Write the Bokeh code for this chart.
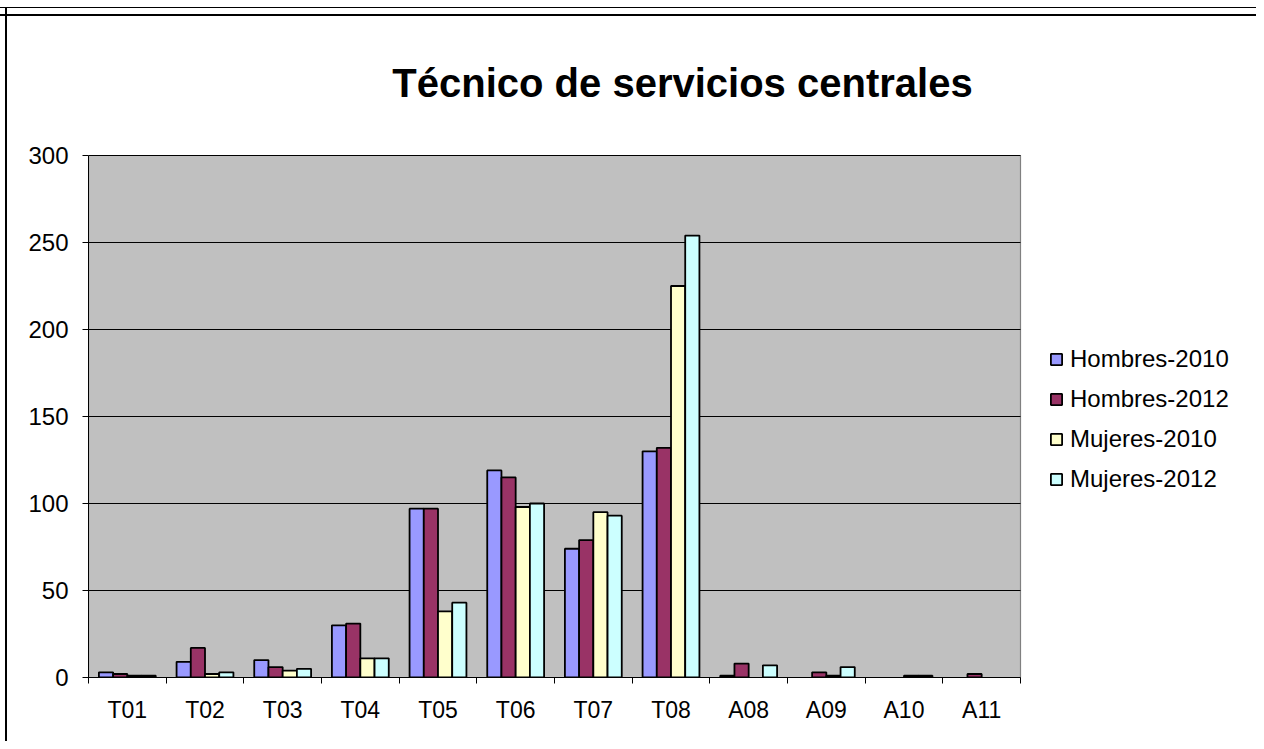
from bokeh.plotting import figure
from bokeh.models import (Range1d, FixedTicker, ColumnDataSource, Legend, LegendItem, Label)
from bokeh.transform import dodge
from bokeh.embed import file_html
from bokeh.resources import INLINE

# ---- data ----
categories = ["T01", "T02", "T03", "T04", "T05", "T06", "T07", "T08", "A08", "A09", "A10", "A11"]
hombres_2010 = [3, 9, 10, 30, 97, 119, 74, 130, 1, 0, 0, 0]
hombres_2012 = [2, 17, 6, 31, 97, 115, 79, 132, 8, 3, 0, 2]
mujeres_2010 = [1, 2, 4, 11, 38, 98, 95, 225, 0, 1, 1, 0]
mujeres_2012 = [1, 3, 5, 11, 43, 100, 93, 254, 7, 6, 1, 0]
series_names = ["Hombres-2010", "Hombres-2012", "Mujeres-2010", "Mujeres-2012"]
y_ticks = [0, 50, 100, 150, 200, 250, 300]
y_max = 300
title_text = "Técnico de servicios centrales"

series_values = [hombres_2010, hombres_2012, mujeres_2010, mujeres_2012]
colors = ["#9999FF", "#993366", "#FFFFCC", "#CCFFFF"]

FONT = "Liberation Sans"
W, H = 1256, 741
# pixel layout of the plot area (gray box)
PA_LEFT, PA_RIGHT, PA_TOP, PA_BOTTOM = 88, 1020, 155, 677
n = len(categories)

# The frame spans from the axes to the top/right canvas edges so that the
# title and legend (drawn inside it) are not clipped; the gray plot area is
# the region [0, n] x [0, y_max] of the data space.
x_end = n * (W - PA_LEFT) / (PA_RIGHT - PA_LEFT)
y_end = y_max * PA_BOTTOM / (PA_BOTTOM - PA_TOP)

p = figure(width=W, height=H, output_backend="svg", toolbar_location=None,
           x_range=Range1d(0, x_end), y_range=Range1d(0, y_end),
           min_border_left=PA_LEFT, min_border_right=0, min_border_top=0,
           min_border_bottom=H - PA_BOTTOM)

p.background_fill_alpha = 0
p.border_fill_alpha = 0
p.outline_line_color = None

# outer chart-area borders drawn by the page element behind the transparent canvas
p.styles = {
    "background": ("linear-gradient(#000,#000) 0 7px / 100% 1px no-repeat, "
                   "linear-gradient(#000,#000) 0 14px / 100% 2px no-repeat, "
                   "linear-gradient(#000,#000) 5px 7px / 2px 100% no-repeat, white"),
}

# gray plot area and its gridlines
p.quad(left=0, right=n, bottom=0, top=y_max, fill_color="#C0C0C0",
       line_color="#808080", line_width=1.2)
p.segment(x0=[0] * len(y_ticks), x1=[n] * len(y_ticks), y0=y_ticks, y1=y_ticks,
          line_color="black", line_width=1)

bar_w = 0.183
renderers = []
for i, (vals, color) in enumerate(zip(series_values, colors)):
    xs = [j + 0.5 for j, v in enumerate(vals) if v > 0]
    tops = [v for v in vals if v > 0]
    src = ColumnDataSource(dict(x=xs, top=tops))
    r = p.vbar(x=dodge("x", (i - 1.5) * bar_w), top="top", bottom=0, width=bar_w,
               source=src, fill_color=color, line_color="black", line_width=1.8)
    renderers.append(r)

# x axis: labels at centres, ticks at category boundaries
p.xaxis.bounds = (0, n)
p.xaxis.ticker = FixedTicker(ticks=[j + 0.5 for j in range(n)],
                             minor_ticks=list(range(n + 1)))
p.xaxis.major_label_overrides = {j + 0.5: c for j, c in enumerate(categories)}
p.xaxis.major_tick_line_color = None
p.xaxis.major_tick_out = 0
p.xaxis.major_tick_in = 0
p.xaxis.minor_tick_line_color = "black"
p.xaxis.minor_tick_out = 6
p.xaxis.minor_tick_in = 0
p.xaxis.major_label_standoff = 13
p.xaxis.major_label_text_font_size = "23px"

p.yaxis.bounds = (0, y_max)
p.yaxis.ticker = FixedTicker(ticks=y_ticks)
p.yaxis.major_tick_out = 6
p.yaxis.major_tick_in = 0
p.yaxis.minor_tick_line_color = None
p.yaxis.major_label_standoff = 14
p.yaxis.major_label_text_font_size = "24px"

for ax in (p.xaxis, p.yaxis):
    ax.axis_line_color = "black"
    ax.axis_line_width = 1
    ax.major_label_text_font = FONT
    ax.major_label_text_color = "black"

p.xgrid.visible = False
p.ygrid.visible = False

legend = Legend(items=[LegendItem(label=s, renderers=[r]) for s, r in zip(series_names, renderers)],
                location=(1049 - PA_LEFT, 184), padding=0, margin=0, spacing=12,
                label_height=27, glyph_height=14, glyph_width=14, label_standoff=7,
                border_line_color=None, background_fill_alpha=0,
                label_text_font=FONT, label_text_font_size="24px", label_text_color="black")
p.add_layout(legend)

title = Label(x=682 - PA_LEFT, y=PA_BOTTOM - 82.5, x_units="screen", y_units="screen",
              text=title_text, text_align="center", text_baseline="alphabetic",
              text_font=FONT, text_font_style="bold", text_font_size="40px",
              text_color="black")
p.add_layout(title)

open("out.html", "w").write(file_html(p, INLINE))
